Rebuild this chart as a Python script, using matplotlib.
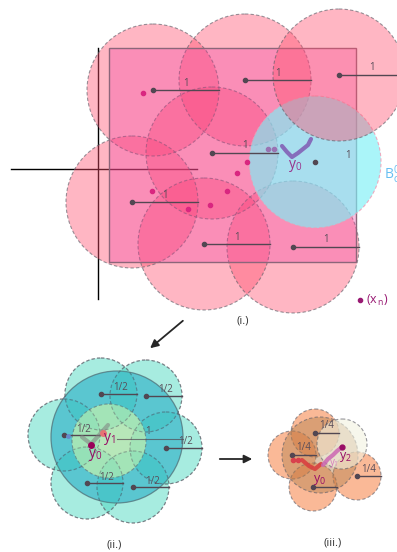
import matplotlib
matplotlib.use("Agg")
import matplotlib.pyplot as plt
from matplotlib.patches import Circle, Rectangle, FancyArrowPatch

# ---------------- data (pixel-space illustration) ----------------
# Panel (i): radius-1 cover balls
top_cx = [153, 245, 339, 212, 132, 204, 293]
top_cy = [90, 80, 75, 153, 202, 244, 247]
top_labels = ["1", "1", "1", "1", "1", "1", "1"]
top_r = 66
blue_c = (315, 162)
blue_label = "1"
pts_x = [143, 247, 237, 152, 227, 210, 188]
pts_y = [93, 162, 173, 191, 191, 205, 209]
path0_x = [282, 287, 292, 298, 303, 308, 311]
path0_y = [146, 152, 157, 153, 149, 145, 139]
dots0_x = [268, 274]
dots0_y = [149, 149]

# Panel (ii): radius-1/2 balls
mid_cx = [101, 146, 64, 166, 87, 133]
mid_cy = [394, 396, 435, 448, 483, 487]
mid_labels = ["1/2", "1/2", "1/2", "1/2", "1/2", "1/2"]
mid_r = 36
mid_big = (117, 437)
mid_big_r = 66
mid_green = (109, 441)
mid_green_r = 37
path1_x = [82, 91, 100, 108]
path1_y = [437, 444, 434, 425]
y0_mid = (91, 445)
y1_mid = (103, 433)

# Panel (iii): radius-1/4 balls
low_cx = [315, 292, 313, 357]
low_cy = [433, 455, 487, 476]
low_labels = ["1/4", "1/4", "", "1/4"]
low_r = 24
low_big = (320, 455)
low_big_r = 38
low_light = (342, 444)
low_light_r = 25
path2_x = [302, 309, 315, 321]
path2_y = [460, 466, 469, 464]
dots2_x = [293, 298]
dots2_y = [460, 460]
path3_x = [323, 328, 333, 337, 342]
path3_y = [465, 459, 455, 451, 447]

FONT = "Open Sans"
W, H = 397, 552
fig = plt.figure(figsize=(W / 100, H / 100), dpi=100)
ax = fig.add_axes([0, 0, 1, 1])
ax.set_xlim(0, W)
ax.set_ylim(H, 0)
ax.axis("off")

dash = dict(linestyle=(0, (3, 2)), linewidth=0.8)
edge_col = (0.38, 0.38, 0.42, 0.65)
line_col = (0.32, 0.28, 0.32)


def ball(c, r, fc, alpha, z, ls=True, ec=edge_col):
    p = Circle(c, r, edgecolor="none", zorder=z)
    p.set_facecolor((*matplotlib.colors.to_rgb(fc), alpha))
    ax.add_patch(p)
    e = Circle(c, r, facecolor="none", edgecolor=ec, zorder=z + 0.01,
               **(dash if ls else dict(linewidth=0.9)))
    ax.add_patch(e)


def radius(c, r, label, z, fs=7, col=line_col, dx=0.5, dy=-7):
    ax.plot([c[0], c[0] + r], [c[1], c[1]], color=col, lw=1, zorder=z)
    ax.plot([c[0]], [c[1]], "o", ms=3, color=col, zorder=z)
    if label:
        ax.text(c[0] + r * dx, c[1] + dy, label, fontsize=fs, family=FONT,
                color=(0.35, 0.3, 0.35), ha="center", va="center", zorder=z)


# ---------------- panel (i) ----------------
pink = (1.0, 0.31, 0.43)
for i, (cx, cy) in enumerate(zip(top_cx, top_cy)):
    if i == 2:
        continue
    ball((cx, cy), top_r, pink, 0.41, 2)
rect = Rectangle((109, 48), 247, 214, facecolor=(0.94, 0.24, 0.63, 0.33),
                 edgecolor=(0.55, 0.4, 0.48), lw=1, zorder=3)
ax.add_patch(rect)
ball(blue_c, top_r, (0.49, 0.94, 0.97), 0.65, 4, ec=(0.95, 0.6, 0.7, 0.8))
ball((top_cx[2], top_cy[2]), top_r, pink, 0.41, 5)

for cx, cy, lb in zip(top_cx, top_cy, top_labels):
    radius((cx, cy), top_r, lb, 6, fs=7)
radius(blue_c, 0, "", 6)
ax.text(blue_c[0] + 33, blue_c[1] - 7, blue_label, fontsize=7, family=FONT,
        color=(0.35, 0.3, 0.35), ha="center", va="center", zorder=6)

ax.plot([98, 98], [48, 299], color="black", lw=1, zorder=1)
ax.plot([11, 197], [169, 169], color="black", lw=1, zorder=1)

ax.plot(pts_x, pts_y, "o", ms=3, color=(0.85, 0.15, 0.5), lw=0, zorder=7)
ax.plot(path0_x, path0_y, color=(0.5, 0.35, 0.7), lw=3, alpha=0.85,
        solid_capstyle="round", zorder=7)
ax.plot(dots0_x, dots0_y, "o", ms=3, color=(0.6, 0.45, 0.7), zorder=7)
ax.text(295, 166, r"$\mathregular{y_0}$", fontsize=10, family=FONT,
        color=(0.6, 0.2, 0.55), ha="center", va="center", zorder=8)
ax.text(384, 175, r"$\mathregular{B_c^0}$", fontsize=10, family=FONT,
        color=(0.4, 0.75, 0.95), ha="left", va="center", zorder=8)

ax.plot([360], [300], "o", ms=3, color=(0.6, 0.1, 0.45), zorder=8)
ax.text(366, 300, r"$\mathregular{(x_{\,n})}$", fontsize=9, family=FONT,
        color=(0.6, 0.1, 0.45), ha="left", va="center", zorder=8)
ax.text(243, 321, "(i.)", fontsize=8, family=FONT, color=(0.2, 0.2, 0.2),
        ha="center", va="center")

# arrows
ax.add_patch(FancyArrowPatch((185, 319), (148, 350), arrowstyle="-|>",
                             mutation_scale=12, color=(0.15, 0.15, 0.15), lw=1.3))
ax.add_patch(FancyArrowPatch((217, 459), (255, 459), arrowstyle="-|>",
                             mutation_scale=12, color=(0.15, 0.15, 0.15), lw=1.3))

# ---------------- panel (ii) ----------------
teal = (0.30, 0.85, 0.76)
ball(mid_big, mid_big_r, (0.13, 0.66, 0.78), 0.6, 10, ls=False,
     ec=(0.3, 0.35, 0.4, 0.7))
for cx, cy in zip(mid_cx, mid_cy):
    ball((cx, cy), mid_r, teal, 0.42, 9)
ball(mid_green, mid_green_r, (0.80, 0.95, 0.68), 0.75, 11)
for cx, cy in zip(mid_cx, mid_cy):
    ball((cx, cy), mid_r, teal, 0.12, 12, ec=(0.38, 0.38, 0.42, 0.45))
for cx, cy, lb in zip(mid_cx, mid_cy, mid_labels):
    radius((cx, cy), mid_r, lb, 13, fs=7, dx=0.55, dy=-6)
ax.plot([mid_big[0], mid_big[0] + mid_big_r], [mid_big[1] + 2, mid_big[1] + 2],
        color=line_col, lw=0.8, alpha=0.7, zorder=13)
ax.text(mid_big[0] + 31, mid_big[1] - 5, "1", fontsize=7, family=FONT,
        color=(0.35, 0.3, 0.35), ha="center", va="center", zorder=13)
ax.plot(path1_x, path1_y, color=(0.5, 0.5, 0.5), lw=3, alpha=0.55,
        solid_capstyle="round", zorder=14)
ax.plot([68], [436], "o", ms=2.5, color=(0.4, 0.55, 0.8), zorder=14)
ax.plot([y0_mid[0]], [y0_mid[1]], "o", ms=4, color=(0.6, 0.0, 0.35), zorder=15)
ax.plot([y1_mid[0]], [y1_mid[1]], "o", ms=4, color=(0.9, 0.45, 0.45), zorder=15)
ax.text(95, 455, r"$\mathregular{y_0}$", fontsize=10, family=FONT,
        color=(0.6, 0.05, 0.4), ha="center", va="center", zorder=15)
ax.text(109, 439, r"$\mathregular{y_1}$", fontsize=10, family=FONT,
        color=(0.6, 0.05, 0.4), ha="center", va="center", zorder=15)
ax.text(114, 545, "(ii.)", fontsize=8, family=FONT, color=(0.2, 0.2, 0.2),
        ha="center", va="center")

# ---------------- panel (iii) ----------------
orange = (0.97, 0.5, 0.26)
for cx, cy in zip(low_cx, low_cy):
    ball((cx, cy), low_r, orange, 0.55, 20)
ball(low_big, low_big_r, (0.7, 0.5, 0.3), 0.45, 21)
ball(low_light, low_light_r, (0.95, 0.95, 0.88), 0.6, 22)
for cx, cy, lb in zip(low_cx, low_cy, low_labels):
    radius((cx, cy), low_r, lb, 23, fs=7, dx=0.5, dy=-7)
ax.plot(path2_x, path2_y, color=(0.85, 0.25, 0.25), lw=3, alpha=0.9,
        solid_capstyle="round", zorder=24)
ax.plot(dots2_x, dots2_y, "o", ms=3, color=(0.85, 0.25, 0.3), zorder=24)
ax.plot(path3_x, path3_y, color=(0.8, 0.4, 0.7), lw=3, alpha=0.85,
        solid_capstyle="round", zorder=24)
ax.plot([path3_x[-1]], [path3_y[-1]], "o", ms=3.5, color=(0.6, 0.05, 0.4), zorder=25)
ax.text(320, 480, r"$\mathregular{y_0}$", fontsize=9, family=FONT,
        color=(0.6, 0.05, 0.4), ha="center", va="center", zorder=25)
ax.text(334, 463, r"$\mathregular{y_1}$", fontsize=7, family=FONT,
        color=(0.85, 0.5, 0.75), ha="center", va="center", zorder=25)
ax.text(345, 457, r"$\mathregular{y_2}$", fontsize=9, family=FONT,
        color=(0.6, 0.05, 0.4), ha="center", va="center", zorder=25)
ax.text(333, 543, "(iii.)", fontsize=8, family=FONT, color=(0.2, 0.2, 0.2),
        ha="center", va="center")

fig.savefig("out.png", dpi=100)
